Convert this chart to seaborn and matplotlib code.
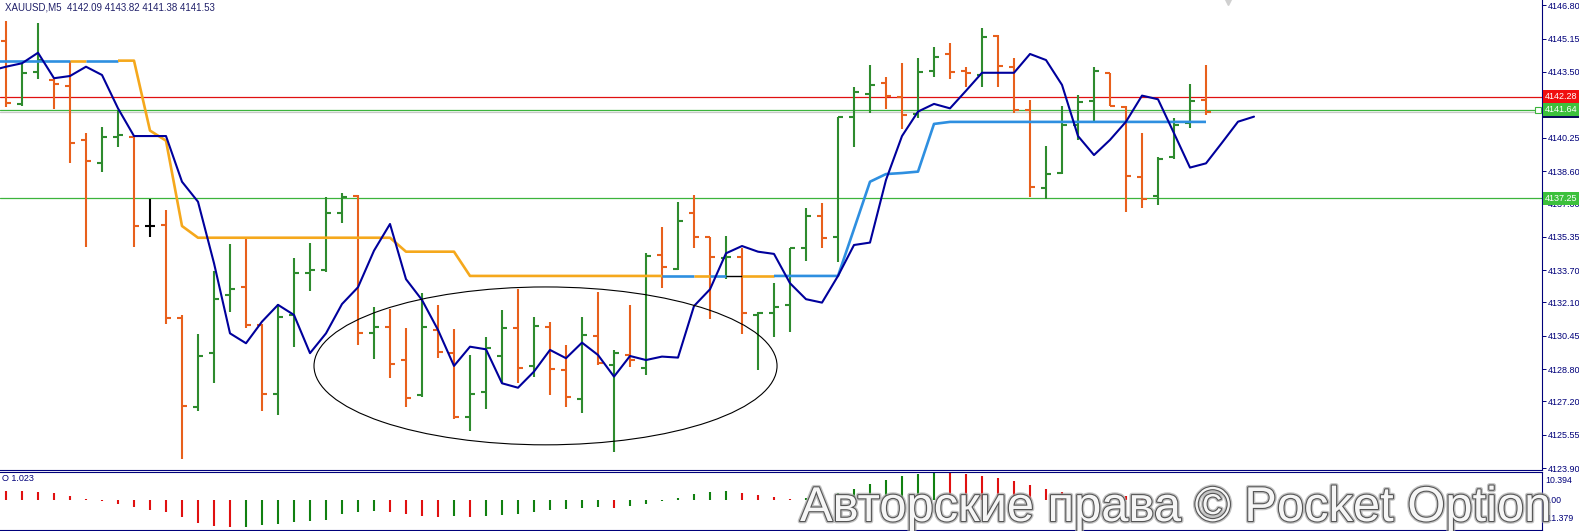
import matplotlib
matplotlib.use('Agg')
import matplotlib.pyplot as plt
import matplotlib.patheffects as pe
import matplotlib.transforms as mtransforms
from matplotlib.patches import Ellipse
import numpy as np
import pandas as pd
import seaborn as sns

# ---- data (XAUUSD M5) ----
opens = [4145.05, 4141.92, 4143.51, 4143.10, 4142.81, 4140.14, 4139.01, 4140.28, 4140.30, 4135.88,
         4135.92, 4131.32, 4126.92, 4129.59, 4132.48, 4132.85, 4130.97, 4127.57, 4131.50, 4133.57,
         4133.71, 4136.51, 4137.37, 4130.61, 4130.90, 4129.25, 4127.52, 4130.74, 4129.62, 4126.45,
         4127.69, 4129.45, 4130.82, 4128.97, 4130.90, 4128.76, 4127.33, 4130.44, 4129.01, 4129.50,
         4128.87, 4134.47, 4133.74, 4136.51, 4135.32, 4134.28, 4134.33, 4131.48, 4131.56, 4131.98,
         4134.77, 4136.38, 4135.35, 4141.29, 4142.41, 4142.94, 4142.28, 4141.42, 4143.56, 4144.37,
         4143.55, 4143.35, 4145.28, 4143.73, 4141.62, 4137.75, 4138.52, 4140.88, 4142.08, 4143.46,
         4141.75, 4138.32, 4137.37, 4139.31, 4140.96, 4142.09]
highs = [4146.04, 4143.93, 4145.94, 4143.14, 4144.06, 4140.50, 4140.76, 4141.62, 4140.33, 4137.20,
         4136.67, 4131.47, 4130.54, 4133.64, 4134.99, 4135.25, 4131.04, 4132.02, 4134.30, 4135.06,
         4137.33, 4137.50, 4137.39, 4131.86, 4131.76, 4130.82, 4132.55, 4131.98, 4130.77, 4129.50,
         4130.41, 4131.73, 4132.78, 4131.40, 4131.15, 4130.00, 4131.37, 4132.63, 4129.75, 4131.98,
         4134.53, 4135.85, 4137.08, 4137.42, 4135.34, 4135.39, 4134.78, 4131.64, 4133.05, 4134.78,
         4136.76, 4137.00, 4141.29, 4142.77, 4143.83, 4143.27, 4143.93, 4144.18, 4144.75, 4144.95,
         4143.76, 4145.66, 4145.33, 4144.18, 4142.11, 4139.84, 4141.82, 4142.36, 4143.76, 4143.47,
         4141.82, 4140.50, 4139.31, 4141.21, 4142.91, 4143.82]
lows = [4141.78, 4141.82, 4143.17, 4141.68, 4139.01, 4134.86, 4138.57, 4139.77, 4134.86, 4135.35,
        4131.04, 4124.37, 4126.75, 4128.10, 4131.64, 4130.82, 4126.72, 4126.55, 4129.91, 4132.65,
        4133.62, 4136.02, 4130.00, 4129.29, 4128.35, 4126.95, 4127.41, 4129.34, 4126.32, 4125.76,
        4126.82, 4128.10, 4128.10, 4128.43, 4127.52, 4126.95, 4126.62, 4129.01, 4124.72, 4128.92,
        4128.51, 4132.80, 4133.71, 4134.78, 4131.27, 4133.25, 4130.54, 4128.76, 4130.38, 4130.65,
        4134.17, 4134.78, 4134.12, 4139.78, 4141.49, 4141.68, 4140.67, 4141.21, 4143.24, 4143.17,
        4142.77, 4142.74, 4142.77, 4141.46, 4137.30, 4137.20, 4138.45, 4140.14, 4141.09, 4141.81,
        4136.59, 4136.76, 4136.92, 4139.18, 4140.71, 4141.38]
closes = [4141.98, 4143.43, 4144.09, 4142.91, 4140.00, 4139.11, 4140.30, 4140.38, 4135.88, 4135.88,
          4131.32, 4126.98, 4129.45, 4132.29, 4132.78, 4131.00, 4127.57, 4131.40, 4133.57, 4133.68,
          4136.51, 4137.30, 4130.58, 4130.90, 4129.06, 4127.38, 4130.90, 4129.67, 4126.45, 4127.57,
          4129.83, 4130.82, 4128.84, 4130.94, 4128.81, 4127.41, 4130.49, 4129.09, 4129.59, 4129.25,
          4134.42, 4133.87, 4136.14, 4135.35, 4134.36, 4134.36, 4131.59, 4131.58, 4131.86, 4134.77,
          4136.38, 4135.30, 4141.27, 4142.50, 4142.86, 4142.31, 4141.37, 4143.48, 4144.23, 4143.51,
          4143.47, 4145.25, 4143.80, 4141.62, 4137.83, 4138.45, 4140.88, 4142.03, 4143.56, 4141.82,
          4138.37, 4137.20, 4139.21, 4140.88, 4142.08, 4141.53]

# shifted moving average (starts one bar before the first bar, ends 3 bars after the last)
ma_start = -1
ma_values = [4143.55, 4143.76, 4143.93, 4144.45, 4143.19, 4143.30, 4143.76, 4143.35, 4141.70, 4140.33,
             4140.33, 4140.33, 4138.07, 4137.08, 4134.04, 4130.57, 4130.08, 4131.15, 4131.98, 4131.48,
             4129.59, 4130.57, 4132.02, 4132.85, 4134.66, 4135.98, 4133.25, 4132.22, 4130.74, 4128.96,
             4129.91, 4129.78, 4128.10, 4127.88, 4128.68, 4129.75, 4129.34, 4130.11, 4129.50, 4128.43,
             4129.45, 4129.25, 4129.42, 4129.37, 4131.92, 4132.75, 4134.53, 4134.89, 4134.61, 4134.50,
             4133.05, 4132.26, 4132.09, 4133.41, 4134.94, 4135.06, 4138.16, 4140.33, 4141.54, 4141.92,
             4141.70, 4142.57, 4143.46, 4143.46, 4143.46, 4144.39, 4144.09, 4142.86, 4140.33, 4139.39,
             4140.14, 4141.04, 4142.33, 4142.15, 4140.47, 4138.77, 4138.98, 4140.00, 4141.04, 4141.29]

# trailing stop line (starts one bar before the first bar)
stop_start = -1
stop_values = [4144.06] * 10 + [4140.60, 4140.10, 4135.88] + [4135.30] * 13 + [4134.61] * 4 \
    + [4133.41] * 24 + [4135.73, 4138.07, 4138.45, 4138.50, 4138.57, 4140.93] + [4141.03] * 17
# colour runs along the stop line: (colour code, number of segments)
stop_runs = [('b', 5), ('o', 1), ('b', 2), ('o', 34), ('b', 2), ('o', 1), ('b', 1),
             ('k', 1), ('o', 2), ('b', 27)]

# oscillator histogram
osc_values = [3.4, 3.1, 2.9, 2.4, 1.5, 0.3, -0.5, -1.6, -2.9, -4.0,
              -4.8, -6.6, -8.8, -10.0, -10.4, -10.2, -9.6, -9.2, -8.5, -8.1,
              -7.5, -5.4, -4.5, -4.4, -4.8, -5.4, -6.3, -6.6, -6.3, -6.6,
              -6.3, -5.9, -5.4, -4.8, -4.0, -3.5, -3.3, -2.9, -3.0, -2.5,
              -1.8, -0.6, 0.6, 2.3, 2.9, 3.4, 2.6, 1.9, 1.1, 0.4,
              0.6, 1.2, 2.5, 4.0, 6.0, 7.5, 8.8, 9.8, 10.39, 10.1,
              9.6, 8.9, 8.0, 7.0, 5.5, 4.0, 2.9, 2.3, 1.8, 2.0,
              1.5, 1.0, 0.6, 0.3, -0.2, 0.5]
osc_max, osc_min = 10.394, -11.379

price_ticks = [4146.80, 4145.15, 4143.50, 4141.85, 4140.25, 4138.60, 4137.00, 4135.35,
               4133.70, 4132.10, 4130.45, 4128.80, 4127.20, 4125.55, 4123.90]
red_level = 4142.28
green_levels = [4141.64, 4137.25]
bid_price = 4141.53
price_range = (4123.81, 4147.06)

title = 'XAUUSD,M5  4142.09 4143.82 4141.38 4141.53'
watermark = 'Авторские права © Pocket Option'

# ---- style ----
NAVY = '#00007a'
GREEN = '#2e8b2e'
ORANGE = '#e8601c'
STOP_COLORS = {'b': '#2e8fe0', 'o': '#f5a81c', 'k': '#000000'}
W, H = 1579, 531

sns.set_style('white')
plt.rcParams['font.family'] = ['Liberation Sans', 'DejaVu Sans']

fig = plt.figure(figsize=(W / 100, H / 100), dpi=100)
ax = fig.add_axes([0, 61 / H, 1542 / W, 470 / H])
osc = fig.add_axes([0, 1 / H, 1542 / W, 58 / H])

bars = pd.DataFrame({'open': opens, 'high': highs, 'low': lows, 'close': closes})
bars['k'] = np.arange(len(bars))
bar_col = np.where(bars['close'] > bars['open'], GREEN,
                   np.where(bars['close'] < bars['open'], ORANGE, 'black'))

# levels
ax.axhline(bid_price, color='#c8c8c8', lw=0.9, zorder=1)
ax.axhline(red_level, color='#e01010', lw=0.9, zorder=1)
for lv in green_levels:
    ax.axhline(lv, color='#3cb43c', lw=0.9, zorder=1)

# OHLC bars
ax.vlines(bars['k'], bars['low'], bars['high'], colors=bar_col, lw=1.5, zorder=2)
ax.hlines(bars['open'], bars['k'] - 0.32, bars['k'], colors=bar_col, lw=1.5, zorder=2)
ax.hlines(bars['close'], bars['k'], bars['k'] + 0.32, colors=bar_col, lw=1.5, zorder=2)

# stop line, coloured by runs
stop_x = np.arange(stop_start, stop_start + len(stop_values))
i = 0
for code, n in stop_runs:
    ax.plot(stop_x[i:i + n + 1], stop_values[i:i + n + 1], color=STOP_COLORS[code],
            lw=1.0 if code == 'k' else 1.9, solid_capstyle='butt', zorder=3)
    i += n

# moving average
ma = pd.DataFrame({'k': np.arange(ma_start, ma_start + len(ma_values)), 'v': ma_values})
sns.lineplot(data=ma, x='k', y='v', ax=ax, color='#00009c', lw=1.5, sort=False,
             estimator=None, zorder=4)

# hand-drawn ellipse
ax.add_patch(Ellipse((33.72, 4128.96), 28.94, 7.81, fill=False, ec='black', lw=0.8, zorder=5))

ax.set_xlim(-0.375, 96.0)
ax.set_ylim(*price_range)
ax.set_xlabel('')
ax.set_ylabel('')
ax.set_xticks([])
ax.yaxis.tick_right()
ax.set_yticks(price_ticks)
ax.set_yticklabels([f'{v:.2f}' for v in price_ticks])
ax.tick_params(axis='y', direction='out', length=3, width=0.7, color=NAVY,
               labelcolor=NAVY, labelsize=6.5, pad=1.5)
for s in ['top', 'left']:
    ax.spines[s].set_visible(False)
for s in ['right', 'bottom']:
    ax.spines[s].set_color(NAVY)
    ax.spines[s].set_linewidth(0.8)

# price labels on the right scale
lab_tr = mtransforms.blended_transform_factory(ax.transAxes, ax.transData)
for val, fc in [(bid_price, '#0a0a5a'), (green_levels[0], '#3cc03c'),
                (red_level, '#f01010'), (green_levels[1], '#3cc03c')]:
    ax.text(1.002, val, f'{val:.2f}', transform=lab_tr, ha='left', va='center',
            color='white', fontsize=6.5, zorder=6,
            bbox=dict(boxstyle='square,pad=0.2', fc=fc, ec='none'))
ax.plot(95.75, green_levels[0], marker='s', ms=4, mfc='white', mec='#3cb43c',
        mew=0.8, clip_on=False, zorder=6)
ax.plot(76.4, 4146.98, marker='v', ms=5, color='#d0d0d0', clip_on=False, zorder=6)

fig.text(5 / W, 1 - 2 / H, title, ha='left', va='top', color='#20206a', fontsize=7)

# oscillator window
osc_col = ['#e01010'] + ['#108010' if osc_values[j] > osc_values[j - 1] else '#e01010'
                         for j in range(1, len(osc_values))]
osc.vlines(np.arange(len(osc_values)), 0, osc_values, colors=osc_col, lw=1.5)
osc.set_xlim(-0.375, 96.0)
osc.set_ylim(osc_min, osc_max)
osc.set_xticks([])
osc.set_yticks([])
osc.spines['left'].set_visible(False)
for s in ['top', 'bottom', 'right']:
    osc.spines[s].set_color(NAVY)
    osc.spines[s].set_linewidth(0.8)
for frac, txt in [(0.86, f'{osc_max:.3f}'), (0.51, '0.00'), (0.2, f'{osc_min:.3f}')]:
    osc.text(1.002, frac, txt, transform=osc.transAxes, ha='left', va='center',
             color=NAVY, fontsize=6.3)
fig.text(2 / W, (H - 474) / H, 'O 1.023', ha='left', va='top', color=NAVY, fontsize=6.5)

# copyright watermark
fig.text(800 / W, (H - 521) / H, watermark, ha='left', va='baseline', fontsize=35.2,
         family=['Liberation Sans'], color='#f6f6f6', zorder=10,
         path_effects=[pe.Stroke(linewidth=3.5, foreground='#a8a8a8', alpha=0.7),
                       pe.Stroke(linewidth=1.6, foreground='#555555'), pe.Normal()])

fig.savefig('out.png', dpi=100)
